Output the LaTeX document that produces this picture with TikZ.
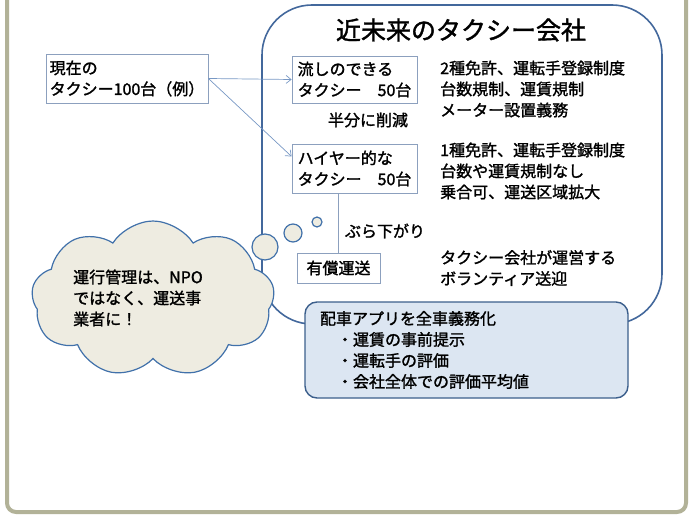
\documentclass[tikz,border=0pt]{standalone}
\usepackage{fontspec}
\setmainfont{Noto Sans CJK JP}[UprightFeatures={FakeBold=1.5}]
\usepackage{tikz}
\usetikzlibrary{arrows.meta}
\usetikzlibrary{shapes.symbols}

\definecolor{framegray}{RGB}{178,178,152}
\definecolor{companyline}{RGB}{67,104,156}
\definecolor{boxline}{RGB}{140,160,190}
\definecolor{arrowline}{RGB}{120,152,196}
\definecolor{cloudfill}{RGB}{238,236,225}
\definecolor{cloudline}{RGB}{65,113,170}
\definecolor{appfill}{RGB}{220,230,242}
\definecolor{appline}{RGB}{60,95,140}

\tikzset{
	taxibox/.style={shape=rectangle,draw=boxline,fill=white,line width=0.8pt,align=left,inner sep=0pt},
	note/.style={anchor=west,align=left,inner sep=0pt},
	bubble/.style={shape=circle,draw=cloudline,fill=cloudfill,line width=1.2pt,inner sep=0pt},
	link/.style={draw=arrowline,line width=0.7pt,-{Straight Barb[length=5pt,width=8pt]}}
}

\begin{document}
\begin{tikzpicture}[x=1pt,y=-1pt,font=\fontsize{16}{21}\selectfont]
	\useasboundingbox (0,0) rectangle (691,516);
	\draw [framegray,line width=4pt,rounded corners=9pt] (7,-10) -- (7,512) -- (686,512) -- (686,-10);
	\draw (462,164.5) node (company) [shape=rectangle,rounded corners=50pt,draw=companyline,line width=1.6pt,minimum width=400,minimum height=319] {};
	\draw (461,30) node (title) [font=\fontsize{25}{30}\selectfont] {近未来のタクシー会社};
	\draw (127,78.5) node (now) [taxibox,minimum width=162,minimum height=49] {現在の\\タクシー100台（例）};
	\draw (354.5,79.5) node (nagashi) [taxibox,minimum width=125,minimum height=47] {流しのできる\\タクシー　50台};
	\draw (354.5,168.5) node (hire) [taxibox,minimum width=125,minimum height=49] {ハイヤー的な\\タクシー　50台};
	\draw (338.5,268) node (yusho) [taxibox,minimum width=83,minimum height=30] {有償運送};
	\draw (368,120) node (half) {半分に削減};
	\draw (385,231) node (hang) {ぶら下がり};
	\draw (440,89) node (rulesa) [note] {2種免許、運転手登録制度\\台数規制、運賃規制\\メーター設置義務};
	\draw (440,171) node (rulesb) [note] {1種免許、運転手登録制度\\台数や運賃規制なし\\乗合可、運送区域拡大};
	\draw (440,268) node (rulesc) [note] {タクシー会社が運営する\\ボランティア送迎};
	\draw [link] (now.east) -- (nagashi.west);
	\draw [link] (now.east) -- ([yshift=12pt]hire.west);
	\draw [draw=boxline,line width=0.8pt] (yusho.north) -- (yusho.north |- hire.south);
	% thought cloud
	\draw (153,299) node (cloud) [shape=cloud,cloud puffs=9,cloud puff arc=115,aspect=1.6,draw=cloudline,fill=cloudfill,line width=1.2pt,minimum width=243,minimum height=156] {};
	\draw (73,298) node (cloudtext) [note] {運行管理は、NPO\\ではなく、運送事\\業者に！};
	\draw (265,247) node (bubblea) [bubble,minimum size=26] {};
	\draw (293,233) node (bubbleb) [bubble,minimum size=18] {};
	\draw (317,222) node (bubblec) [bubble,minimum size=10] {};
	% app box
	\draw (466.5,350) node (app) [shape=rectangle,rounded corners=12pt,draw=appline,fill=appfill,line width=1.4pt,text width=293pt,inner xsep=15pt,minimum height=96,align=left] {配車アプリを全車義務化\\\hspace*{17pt}・運賃の事前提示\\\hspace*{17pt}・運転手の評価\\\hspace*{17pt}・会社全体での評価平均値};
\end{tikzpicture}
\end{document}
